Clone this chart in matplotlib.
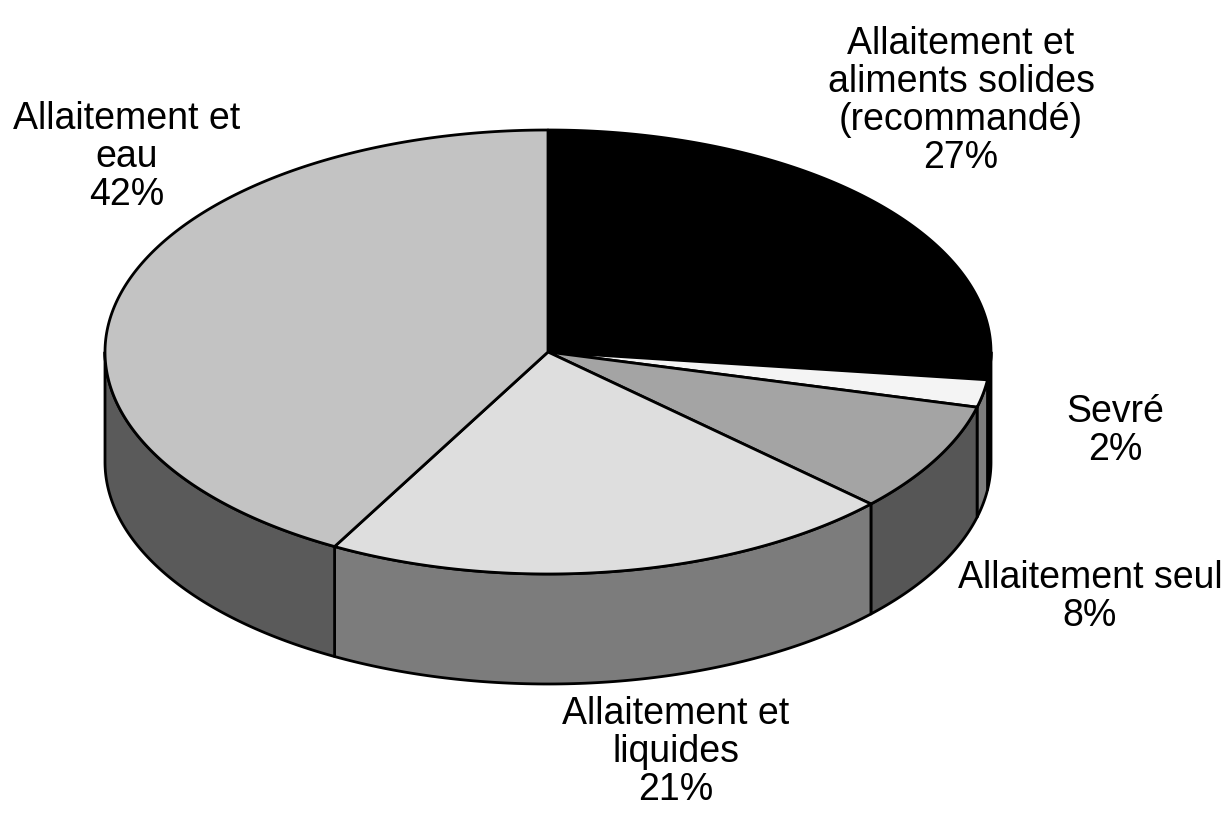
import numpy as np
import matplotlib
matplotlib.use('Agg')
import matplotlib.pyplot as plt
from matplotlib.patches import Polygon

plt.rcParams['font.family'] = ['Liberation Sans', 'DejaVu Sans']

# Slices, clockwise from 12 o'clock
labels = ['Allaitement et\naliments solides\n(recommandé)', 'Sevré', 'Allaitement seul',
          'Allaitement et\nliquides', 'Allaitement et\neau']
shares = [27, 2, 8, 21, 42]
top_colors = ['#000000', '#f4f4f4', '#a4a4a4', '#dedede', '#c3c3c3']
side_colors = ['#000000', '#7e7e7e', '#565656', '#7c7c7c', '#5a5a5a']
label_pos = [(961, 101), (1115, 431), (1090, 597), (676, 752), (127, 157)]

# Ellipse geometry in pixels
cx, cy = 548, 352
rx, ry = 443, 222
depth = 110


def rim(t):
    return cx + rx * np.sin(t), cy - ry * np.cos(t)


fig = plt.figure(figsize=(12.29, 8.32), dpi=100)
ax = fig.add_axes([0, 0, 1, 1])
ax.set_xlim(0, 1229)
ax.set_ylim(832, 0)
ax.axis('off')

edges = np.radians(np.cumsum([0] + shares) * 3.6)

# Side walls, only the front half of the rim shows
for i in range(len(shares)):
    a = max(edges[i], np.pi / 2)
    b = min(edges[i + 1], 3 * np.pi / 2)
    if a >= b:
        continue
    t = np.linspace(a, b, 100)
    x, y = rim(t)
    pts = np.r_[np.c_[x, y], np.c_[x[::-1], y[::-1] + depth]]
    ax.add_patch(Polygon(pts, closed=True, fc=side_colors[i], ec='black', lw=2, joinstyle='round'))

# Top faces
for i in range(len(shares)):
    t = np.linspace(edges[i], edges[i + 1], 200)
    x, y = rim(t)
    pts = np.r_[[[cx, cy]], np.c_[x, y]]
    ax.add_patch(Polygon(pts, closed=True, fc=top_colors[i], ec='black', lw=2, joinstyle='round'))

for name, share, (lx, ly) in zip(labels, shares, label_pos):
    ax.text(lx, ly, f'{name}\n{share}%', ha='center', va='center', fontsize=27,
            color='black', linespacing=1.07)

fig.savefig('out.png', dpi=100, facecolor='white')
